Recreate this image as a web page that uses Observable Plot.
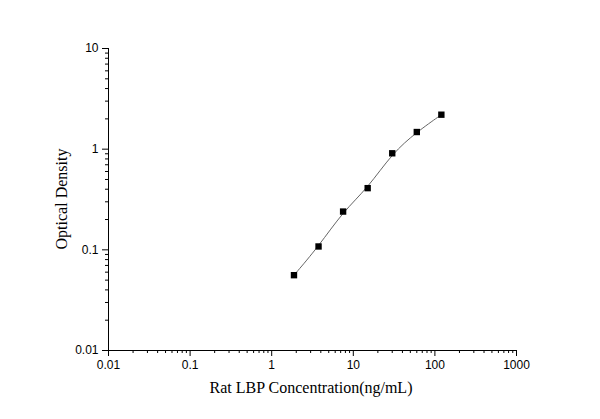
<!DOCTYPE html>
<html>
<head>
<meta charset="utf-8">
<script src="https://cdn.jsdelivr.net/npm/d3@7"></script>
<script src="https://cdn.jsdelivr.net/npm/@observablehq/plot@0.6"></script>
<style>
  body { margin: 0; background: #fff; }
  #chart svg { display: block; }
</style>
</head>
<body>
<div id="chart"></div>
<script>
const concentration = [1.875, 3.75, 7.5, 15, 30, 60, 120];
const opticalDensity = [0.056, 0.108, 0.240, 0.410, 0.910, 1.48, 2.20];
const xTicks = [0.01, 0.1, 1, 10, 100, 1000];
const yTicks = [0.01, 0.1, 1, 10];
const xLabel = "Rat LBP Concentration(ng/mL)";
const yLabel = "Optical Density";

const data = concentration.map((c, i) => ({x: c, y: opticalDensity[i]}));

function minorTicks(majors) {
  const out = [];
  for (let i = 0; i < majors.length - 1; i++)
    for (let k = 2; k <= 9; k++) out.push(majors[i] * k);
  return out;
}

const plot = Plot.plot({
  width: 600,
  height: 419,
  marginLeft: 108,
  marginRight: 84,
  marginTop: 48,
  marginBottom: 69,
  style: {fontFamily: "'Liberation Sans', Arial, sans-serif", fontSize: "12px", color: "#000", background: "#fff"},
  x: {type: "log", domain: [0.01, 1000]},
  y: {type: "log", domain: [0.01, 10]},
  marks: [
    Plot.axisX({ticks: xTicks, tickSize: 6, tickFormat: d => String(d), label: null, fontSize: 12, tickPadding: 4}),
    Plot.axisX({ticks: minorTicks(xTicks), tickSize: 3, tickFormat: () => "", label: null}),
    Plot.axisY({ticks: yTicks, tickSize: 6, tickFormat: d => String(d), label: null, fontSize: 12, tickPadding: 4}),
    Plot.axisY({ticks: minorTicks(yTicks), tickSize: 3, tickFormat: () => "", label: null}),
    Plot.ruleY([0.01], {stroke: "#000"}),
    Plot.ruleX([0.01], {stroke: "#000"}),
    Plot.line(data, {x: "x", y: "y", curve: "basis", stroke: "#666", strokeWidth: 1}),
    Plot.dot(data, {x: "x", y: "y", symbol: "square", r: 3.6, fill: "#000", stroke: "none"}),
  ]
});

const svg = d3.select(plot);
svg.append("text")
  .attr("x", 311).attr("y", 393)
  .attr("text-anchor", "middle")
  .style("font-family", "'Liberation Serif', 'Times New Roman', serif")
  .style("font-size", "16px")
  .text(xLabel);
svg.append("text")
  .attr("transform", "translate(67,199) rotate(-90)")
  .attr("text-anchor", "middle")
  .style("font-family", "'Liberation Serif', 'Times New Roman', serif")
  .style("font-size", "16px")
  .text(yLabel);

document.getElementById("chart").appendChild(plot);
</script>
</body>
</html>
